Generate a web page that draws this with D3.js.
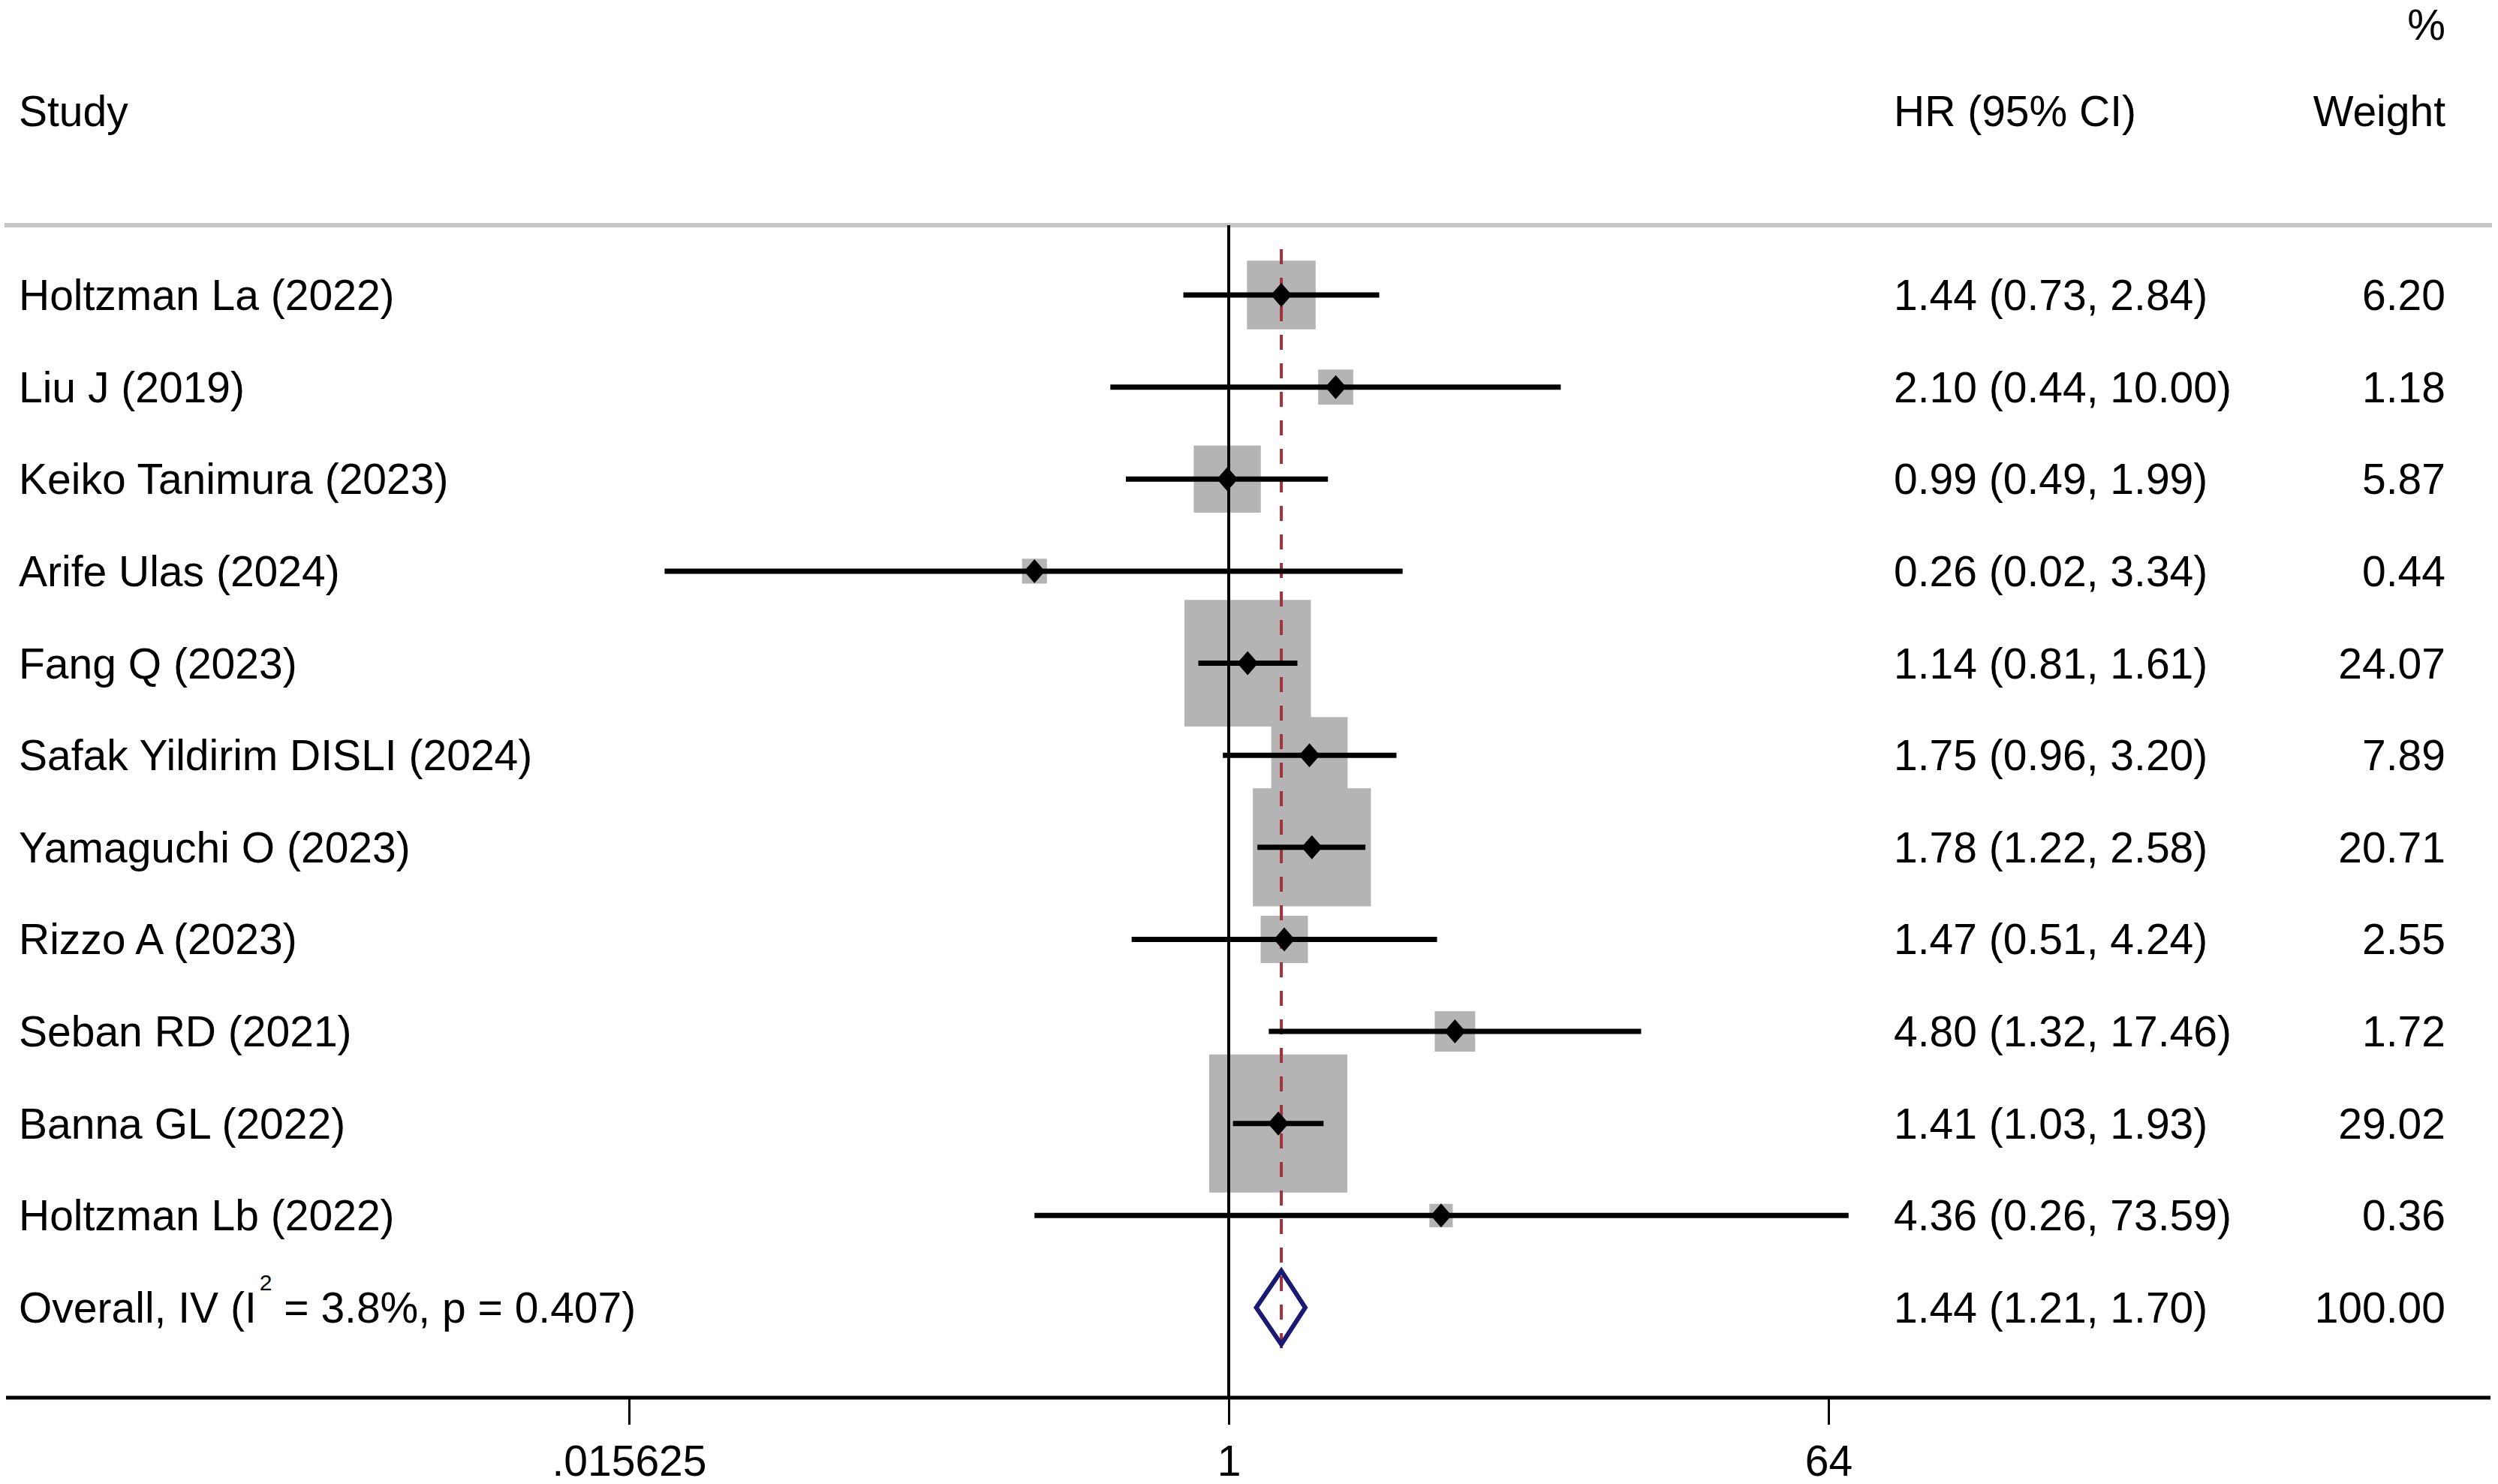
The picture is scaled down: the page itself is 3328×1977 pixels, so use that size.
<!DOCTYPE html>
<html>
<head>
<meta charset="utf-8">
<script src="https://cdn.jsdelivr.net/npm/d3@7"></script>
<style>
  body { margin: 0; background: #fff; }
  text { font-family: "Liberation Sans", Arial, sans-serif; fill: #000; }
</style>
</head>
<body>
<div id="chart"></div>
<script>
const studies = ["Holtzman La (2022)", "Liu J (2019)", "Keiko Tanimura (2023)", "Arife Ulas (2024)",
  "Fang Q (2023)", "Safak Yildirim DISLI (2024)", "Yamaguchi O (2023)", "Rizzo A (2023)",
  "Seban RD (2021)", "Banna GL (2022)", "Holtzman Lb (2022)"];
const hr = [1.44, 2.10, 0.99, 0.26, 1.14, 1.75, 1.78, 1.47, 4.80, 1.41, 4.36];
const lower = [0.73, 0.44, 0.49, 0.02, 0.81, 0.96, 1.22, 0.51, 1.32, 1.03, 0.26];
const upper = [2.84, 10.00, 1.99, 3.34, 1.61, 3.20, 2.58, 4.24, 17.46, 1.93, 73.59];
const weights = [6.20, 1.18, 5.87, 0.44, 24.07, 7.89, 20.71, 2.55, 1.72, 29.02, 0.36];

const overallLabel = ["Overall, IV (I", "2", " = 3.8%, p = 0.407)"];
const overallHr = [1.44, 1.21, 1.70];   // estimate, lower, upper
const overallWeight = "100.00";

const tickValues = [0.015625, 1, 64];
const tickLabels = [".015625", "1", "64"];

const width = 3328, height = 1977;
const fontSize = 57;

const svg = d3.select("#chart").append("svg")
    .attr("width", width)
    .attr("height", height);

svg.append("rect").attr("width", width).attr("height", height).attr("fill", "#fff");

// log2 scale for hazard ratios
const x = d3.scaleLog().base(2)
    .domain([0.015625, 64])
    .range([838, 2436]);

// rows: 11 studies + overall
const y = d3.scaleLinear()
    .domain([0, studies.length])
    .range([393, 1742]);

// box side grows with sqrt of weight
const box = d3.scaleSqrt()
    .domain([0, d3.max(weights)])
    .range([12, 184]);

const fmt = d3.format(".2f");
const rows = studies.map((s, i) => ({ study: s, hr: hr[i], lo: lower[i], hi: upper[i], w: weights[i], i: i }));

const axisY = 1862;

// header
svg.append("text").attr("x", 25).attr("y", 168).attr("font-size", fontSize).text("Study");
svg.append("text").attr("x", 2523).attr("y", 168).attr("font-size", fontSize).text("HR (95% CI)");
svg.append("text").attr("x", 3258).attr("y", 168).attr("font-size", fontSize)
    .attr("text-anchor", "end").text("Weight");
svg.append("text").attr("x", 3258).attr("y", 53).attr("font-size", fontSize)
    .attr("text-anchor", "end").text("%");

svg.append("line")
    .attr("x1", 6).attr("x2", 3320).attr("y1", 300).attr("y2", 300)
    .attr("stroke", "#c6c6c6").attr("stroke-width", 6);

// weight boxes
svg.selectAll(".box").data(rows).enter().append("rect")
    .attr("class", "box")
    .attr("x", d => x(d.hr) - box(d.w) / 2)
    .attr("y", d => y(d.i) - box(d.w) / 2)
    .attr("width", d => box(d.w))
    .attr("height", d => box(d.w))
    .attr("fill", "#b4b4b4");

// null line at HR = 1
svg.append("line")
    .attr("x1", x(1)).attr("x2", x(1)).attr("y1", 300).attr("y2", axisY)
    .attr("stroke", "#000").attr("stroke-width", 4);

// overall estimate dashed line
svg.append("line")
    .attr("x1", x(overallHr[0])).attr("x2", x(overallHr[0]))
    .attr("y1", 332).attr("y2", 1802)
    .attr("stroke", "#a3323c").attr("stroke-width", 4)
    .attr("stroke-dasharray", "20,18");

// confidence intervals
svg.selectAll(".ci").data(rows).enter().append("line")
    .attr("class", "ci")
    .attr("x1", d => x(d.lo)).attr("x2", d => x(d.hi))
    .attr("y1", d => y(d.i)).attr("y2", d => y(d.i))
    .attr("stroke", "#000").attr("stroke-width", 7);

// point estimates
svg.selectAll(".pt").data(rows).enter().append("path")
    .attr("class", "pt")
    .attr("d", d => {
      const cx = x(d.hr), cy = y(d.i);
      return `M${cx},${cy - 16}L${cx + 14},${cy}L${cx},${cy + 16}L${cx - 14},${cy}Z`;
    })
    .attr("fill", "#000");

// pooled diamond
const oy = y(studies.length);
svg.append("path")
    .attr("d", `M${x(overallHr[1])},${oy}L${x(overallHr[0])},${oy - 49}L${x(overallHr[2])},${oy}L${x(overallHr[0])},${oy + 49}Z`)
    .attr("fill", "none")
    .attr("stroke", "#1a1a75")
    .attr("stroke-width", 6);

// row labels
svg.selectAll(".lab").data(rows).enter().append("text")
    .attr("class", "lab")
    .attr("x", 25).attr("y", d => y(d.i) + 20)
    .attr("font-size", fontSize)
    .text(d => d.study);

svg.selectAll(".est").data(rows).enter().append("text")
    .attr("class", "est")
    .attr("x", 2523).attr("y", d => y(d.i) + 20)
    .attr("font-size", fontSize)
    .text(d => `${fmt(d.hr)} (${fmt(d.lo)}, ${fmt(d.hi)})`);

svg.selectAll(".wt").data(rows).enter().append("text")
    .attr("class", "wt")
    .attr("x", 3258).attr("y", d => y(d.i) + 20)
    .attr("text-anchor", "end")
    .attr("font-size", fontSize)
    .text(d => fmt(d.w));

// overall row
const ol = svg.append("text").attr("x", 25).attr("y", oy + 20).attr("font-size", fontSize);
ol.append("tspan").text(overallLabel[0]);
ol.append("tspan").attr("font-size", 30).attr("dy", -43).attr("dx", 4).text(overallLabel[1]);
ol.append("tspan").attr("dy", 43).text(overallLabel[2]);

svg.append("text").attr("x", 2523).attr("y", oy + 20).attr("font-size", fontSize)
    .text(`${fmt(overallHr[0])} (${fmt(overallHr[1])}, ${fmt(overallHr[2])})`);
svg.append("text").attr("x", 3258).attr("y", oy + 20).attr("font-size", fontSize)
    .attr("text-anchor", "end").text(overallWeight);

// x axis
svg.append("line")
    .attr("x1", 8).attr("x2", 3318).attr("y1", axisY).attr("y2", axisY)
    .attr("stroke", "#000").attr("stroke-width", 5);

const axis = svg.append("g")
    .attr("transform", `translate(0,${axisY})`)
    .call(d3.axisBottom(x)
      .tickValues(tickValues)
      .tickFormat((d, i) => tickLabels[i])
      .tickSize(36)
      .tickPadding(28));

axis.select(".domain").remove();
axis.selectAll(".tick line").attr("stroke", "#000").attr("stroke-width", 3);
axis.selectAll(".tick text")
    .attr("font-size", fontSize)
    .attr("font-family", "'Liberation Sans', Arial, sans-serif")
    .attr("fill", "#000");
</script>
</body>
</html>
